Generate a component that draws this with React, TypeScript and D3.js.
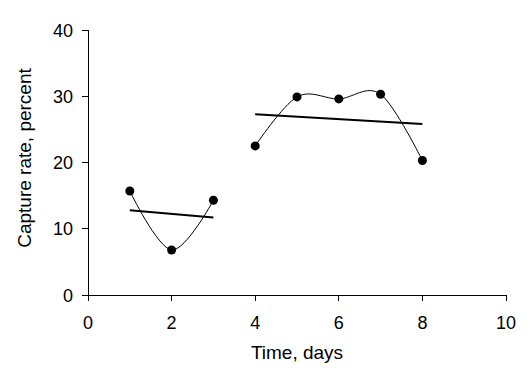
import React, { useRef, useEffect } from 'react';
import * as d3 from 'd3';

// observations, two groups
const daysA = [1, 2, 3];
const rateA = [15.7, 6.8, 14.3];
const daysB = [4, 5, 6, 7, 8];
const rateB = [22.5, 29.9, 29.6, 30.3, 20.3];

// trend line end points
const trendDaysA = [1, 3];
const trendRateA = [12.8, 11.7];
const trendDaysB = [4, 8];
const trendRateB = [27.3, 25.8];

const xTicks = [0, 2, 4, 6, 8, 10];
const yTicks = [0, 10, 20, 30, 40];

const App = () => {
    const svgRef = useRef(null);

    useEffect(() => {
        const svg = d3.select(svgRef.current);
        svg.selectAll("*").remove();

        const font = "Liberation Sans, Arial, sans-serif";
        const x = d3.scaleLinear().domain([0, 10]).range([88, 506]);
        const y = d3.scaleLinear().domain([0, 40]).range([295, 30]);

        // axes
        svg.append("line")
            .attr("x1", x(0)).attr("x2", x(0))
            .attr("y1", y(40)).attr("y2", y(0))
            .attr("stroke", "black").attr("shape-rendering", "crispEdges");
        svg.append("line")
            .attr("x1", x(0)).attr("x2", x(10))
            .attr("y1", y(0)).attr("y2", y(0))
            .attr("stroke", "black").attr("shape-rendering", "crispEdges");

        svg.selectAll(".ytick")
            .data(yTicks)
            .join("line")
            .attr("x1", x(0) - 6).attr("x2", x(0))
            .attr("y1", d => y(d)).attr("y2", d => y(d))
            .attr("stroke", "black").attr("shape-rendering", "crispEdges");
        svg.selectAll(".ylabel")
            .data(yTicks)
            .join("text")
            .attr("x", 73)
            .attr("y", d => y(d) + 6.5)
            .attr("text-anchor", "end")
            .attr("font-family", font)
            .attr("font-size", "18px")
            .text(d => d);

        svg.selectAll(".xtick")
            .data(xTicks)
            .join("line")
            .attr("x1", d => x(d)).attr("x2", d => x(d))
            .attr("y1", y(0)).attr("y2", y(0) + 6)
            .attr("stroke", "black").attr("shape-rendering", "crispEdges");
        svg.selectAll(".xlabel")
            .data(xTicks)
            .join("text")
            .attr("x", d => x(d))
            .attr("y", 329)
            .attr("text-anchor", "middle")
            .attr("font-family", font)
            .attr("font-size", "18px")
            .text(d => d);

        svg.append("text")
            .attr("x", (x(0) + x(10)) / 2)
            .attr("y", 359)
            .attr("text-anchor", "middle")
            .attr("font-family", font)
            .attr("font-size", "19px")
            .text("Time, days");

        svg.append("text")
            .attr("transform", `translate(31, 158) rotate(-90)`)
            .attr("text-anchor", "middle")
            .attr("font-family", font)
            .attr("font-size", "19px")
            .text("Capture rate, percent");

        // smoothed lines, like a spreadsheet's smoothed series
        const smooth = d3.line()
            .x(d => x(d[0]))
            .y(d => y(d[1]))
            .curve(d3.curveCardinal.tension(0));

        const groups = [
            daysA.map((d, i) => [d, rateA[i]]),
            daysB.map((d, i) => [d, rateB[i]]),
        ];
        const trends = [
            trendDaysA.map((d, i) => [d, trendRateA[i]]),
            trendDaysB.map((d, i) => [d, trendRateB[i]]),
        ];

        groups.forEach(pts => {
            svg.append("path")
                .attr("d", smooth(pts))
                .attr("fill", "none")
                .attr("stroke", "black")
                .attr("stroke-width", 1);
        });

        const straight = d3.line().x(d => x(d[0])).y(d => y(d[1]));
        trends.forEach(pts => {
            svg.append("path")
                .attr("d", straight(pts))
                .attr("fill", "none")
                .attr("stroke", "black")
                .attr("stroke-width", 2);
        });

        groups.forEach(pts => {
            svg.selectAll(null)
                .data(pts)
                .join("circle")
                .attr("cx", d => x(d[0]))
                .attr("cy", d => y(d[1]))
                .attr("r", 4.5)
                .attr("fill", "black");
        });
    }, []);

    return (
        <svg ref={svgRef} width={532} height={368}
            style={{ position: "absolute", left: 0, top: 0, background: "white" }} />
    );
};

export default App;
